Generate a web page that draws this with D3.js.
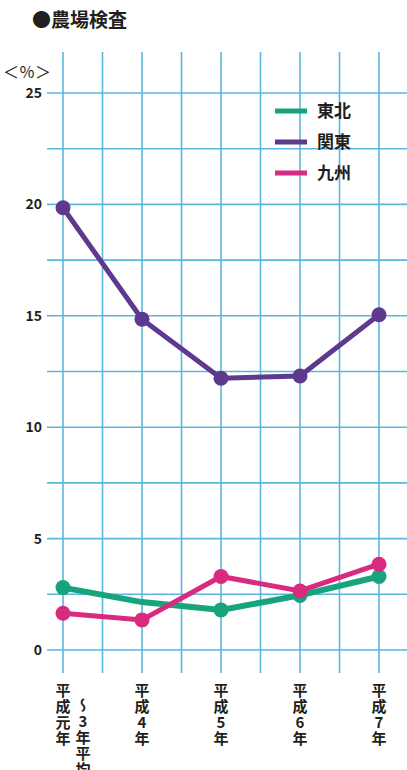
<!DOCTYPE html>
<html>
<head>
<meta charset="utf-8">
<script src="https://d3js.org/d3.v7.min.js"></script>
<style>
  body { margin: 0; background: #fff; }
  text { font-family: "Noto Sans CJK JP", "Noto Sans", sans-serif; fill: #231f20; }
  .grid line { stroke: #5ab6de; stroke-width: 1.6px; }
  .xlab { writing-mode: vertical-rl; text-orientation: upright; font-size: 15px; font-weight: bold; }
</style>
</head>
<body>
<div id="chart"></div>
<script>
// data
var years = ["平成元年〜3年平均", "平成4年", "平成5年", "平成6年", "平成7年"];
var xLabels = [["平成元年", "〜3年平均"], ["平成4年"], ["平成5年"], ["平成6年"], ["平成7年"]];
var tohoku = [2.8, 2.15, 1.8, 2.45, 3.3];
var tohokuMarks = [true, false, true, true, true];
var kanto = [19.85, 14.85, 12.2, 12.3, 15.05];
var kyushu = [1.65, 1.35, 3.3, 2.65, 3.85];
var yTicks = [0, 5, 10, 15, 20, 25];
var regions = ["東北", "関東", "九州"];
var colors = ["#17a47c", "#5d3a8e", "#d92a80"];

var width = 407, height = 770;
var svg = d3.select("#chart").append("svg")
  .attr("width", width).attr("height", height);

var y = d3.scaleLinear().domain([0, 25]).range([650, 93]);
var x = d3.scalePoint().domain(years).range([63, 379]);
var step = (x(years[1]) - x(years[0])) / 2;

// grid
var grid = svg.append("g").attr("class", "grid");
d3.range(0, 25.01, 2.5).forEach(function (v) {
  grid.append("line").attr("x1", 47).attr("x2", width)
    .attr("y1", y(v)).attr("y2", y(v));
});
d3.range(0, 9).forEach(function (i) {
  var gx = x(years[0]) + i * step;
  grid.append("line").attr("x1", gx).attr("x2", gx)
    .attr("y1", 52).attr("y2", 673);
});

// y tick labels
svg.append("g").selectAll("text").data(yTicks).enter().append("text")
  .attr("x", 42).attr("y", function (d) { return y(d) + 5; })
  .attr("text-anchor", "end")
  .style("font-size", "14px").style("font-weight", "bold")
  .text(function (d) { return d; });

svg.append("text").attr("x", 3).attr("y", 78)
  .style("font-size", "16px").text("＜％＞");

// title
svg.append("text").attr("x", 32).attr("y", 27)
  .style("font-size", "19px").style("font-weight", "bold")
  .text("●農場検査");

// x labels, vertical text columns
xLabels.forEach(function (cols, i) {
  cols.forEach(function (s, j) {
    svg.append("text")
      .attr("class", "xlab")
      .attr("x", x(years[i]) + j * 20)
      .attr("y", j === 0 ? 683 : 698)
      .style("letter-spacing", "1px")
      .text(s);
  });
});

// lines
var line = d3.line()
  .x(function (d, i) { return x(years[i]); })
  .y(function (d) { return y(d); });

var series = [
  { name: "東北", values: tohoku, marks: tohokuMarks, color: colors[0], w: 6 },
  { name: "九州", values: kyushu, marks: [true, true, true, true, true], color: colors[2], w: 5 },
  { name: "関東", values: kanto, marks: [true, true, true, true, true], color: colors[1], w: 5 }
];

series.forEach(function (s) {
  svg.append("path").datum(s.values)
    .attr("d", line)
    .attr("fill", "none")
    .attr("stroke", s.color)
    .attr("stroke-width", s.w);
  svg.append("g").selectAll("circle")
    .data(s.values.map(function (v, i) { return { v: v, i: i }; })
      .filter(function (d) { return s.marks[d.i]; }))
    .enter().append("circle")
    .attr("cx", function (d) { return x(years[d.i]); })
    .attr("cy", function (d) { return y(d.v); })
    .attr("r", 7.5)
    .attr("fill", s.color);
});

// legend
var legend = svg.append("g");
regions.forEach(function (r, i) {
  var ly = 111 + i * 31;
  legend.append("rect").attr("x", 275).attr("y", ly - 2.5)
    .attr("width", 32).attr("height", 5).attr("fill", colors[i]);
  legend.append("text").attr("x", 317).attr("y", ly + 6)
    .style("font-size", "17px").style("font-weight", "bold")
    .text(r);
});
</script>
</body>
</html>
